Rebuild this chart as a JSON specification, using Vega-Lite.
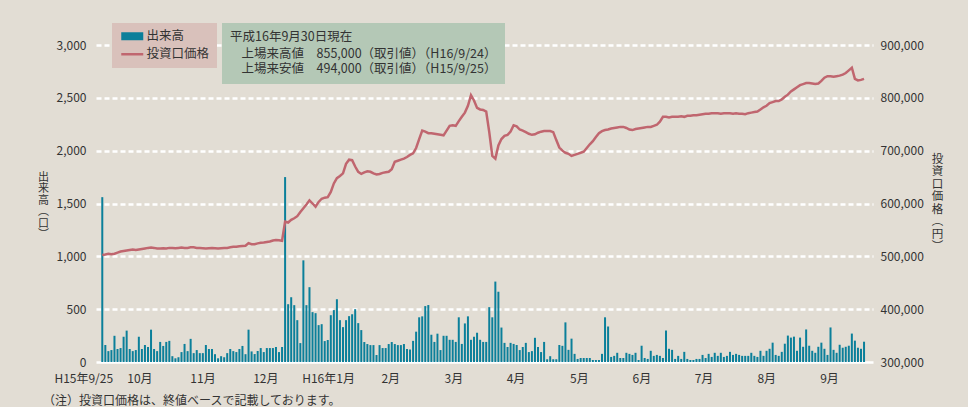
{
  "$schema": "https://vega.github.io/schema/vega-lite/v6.json",
  "autosize": {"type": "none"},
  "padding": {"left": 96, "top": 45, "right": 95, "bottom": 45},
  "width": 777,
  "height": 317,
  "background": "#e2ddd4",
  "config": {
    "font": "Noto Sans CJK JP",
    "view": {"stroke": null},
    "axis": {"labelColor": "#333333", "titleColor": "#333333", "labelFont": "Noto Sans CJK JP", "titleFont": "Noto Sans CJK JP"},
    "legend": {"labelColor": "#333333", "titleColor": "#333333", "labelFont": "Noto Sans CJK JP", "titleFont": "Noto Sans CJK JP"}
  },
  "title": {
    "text": "（注）投資口価格は、終値ベースで記載しております。",
    "orient": "bottom", "anchor": "start", "frame": "group",
    "dx": -53, "offset": 12, "fontSize": 12, "fontWeight": "normal", "color": "#333333"
  },
  "datasets": {
    "daily": [
      {"i":0,"v":1560,"p":502600},{"i":1,"v":161,"p":503500},{"i":2,"v":103,"p":505000},{"i":3,"v":113,"p":504000},{"i":4,"v":248,"p":505000},
      {"i":5,"v":123,"p":507000},{"i":6,"v":132,"p":509000},{"i":7,"v":239,"p":510000},{"i":8,"v":297,"p":511000},{"i":9,"v":123,"p":512000},
      {"i":10,"v":103,"p":513000},{"i":11,"v":113,"p":512000},{"i":12,"v":239,"p":513000},{"i":13,"v":123,"p":514000},{"i":14,"v":161,"p":515000},
      {"i":15,"v":142,"p":516000},{"i":16,"v":306,"p":516500},{"i":17,"v":123,"p":516000},{"i":18,"v":103,"p":515000},{"i":19,"v":190,"p":515000},
      {"i":20,"v":152,"p":515500},{"i":21,"v":190,"p":515000},{"i":22,"v":200,"p":516000},{"i":23,"v":55,"p":516000},{"i":24,"v":35,"p":515500},
      {"i":25,"v":45,"p":516000},{"i":26,"v":94,"p":516500},{"i":27,"v":171,"p":516000},{"i":28,"v":103,"p":516000},{"i":29,"v":219,"p":517000},
      {"i":30,"v":84,"p":517000},{"i":31,"v":113,"p":516000},{"i":32,"v":84,"p":516000},{"i":33,"v":84,"p":515500},{"i":34,"v":161,"p":515000},
      {"i":35,"v":123,"p":515500},{"i":36,"v":123,"p":516000},{"i":37,"v":74,"p":515500},{"i":38,"v":35,"p":515000},{"i":39,"v":55,"p":515500},
      {"i":40,"v":45,"p":516000},{"i":41,"v":84,"p":516000},{"i":42,"v":123,"p":517000},{"i":43,"v":103,"p":518000},{"i":44,"v":94,"p":518000},
      {"i":45,"v":123,"p":519000},{"i":46,"v":152,"p":519500},{"i":47,"v":74,"p":520000},{"i":48,"v":306,"p":525000},{"i":49,"v":100,"p":523000},
      {"i":50,"v":75,"p":523000},{"i":51,"v":104,"p":524500},{"i":52,"v":132,"p":525500},{"i":53,"v":94,"p":526000},{"i":54,"v":132,"p":527000},
      {"i":55,"v":132,"p":528000},{"i":56,"v":132,"p":530000},{"i":57,"v":142,"p":531000},{"i":58,"v":94,"p":530500},{"i":59,"v":142,"p":529500},
      {"i":60,"v":1750,"p":565600},{"i":61,"v":547,"p":564000},{"i":62,"v":613,"p":569000},{"i":63,"v":538,"p":572000},{"i":64,"v":396,"p":576000},
      {"i":65,"v":179,"p":584000},{"i":66,"v":962,"p":591000},{"i":67,"v":538,"p":598000},{"i":68,"v":708,"p":606000},{"i":69,"v":472,"p":600000},
      {"i":70,"v":462,"p":594000},{"i":71,"v":349,"p":603000},{"i":72,"v":358,"p":609000},{"i":73,"v":198,"p":611000},{"i":74,"v":208,"p":612000},
      {"i":75,"v":443,"p":622000},{"i":76,"v":491,"p":638000},{"i":77,"v":594,"p":648000},{"i":78,"v":396,"p":652000},{"i":79,"v":330,"p":657000},
      {"i":80,"v":396,"p":675000},{"i":81,"v":434,"p":683000},{"i":82,"v":453,"p":682000},{"i":83,"v":500,"p":670000},{"i":84,"v":368,"p":660000},
      {"i":85,"v":302,"p":656000},{"i":86,"v":189,"p":659000},{"i":87,"v":170,"p":661000},{"i":88,"v":160,"p":660000},{"i":89,"v":160,"p":657000},
      {"i":90,"v":66,"p":655000},{"i":91,"v":160,"p":656000},{"i":92,"v":132,"p":658000},{"i":93,"v":132,"p":659000},{"i":94,"v":170,"p":660000},
      {"i":95,"v":189,"p":665000},{"i":96,"v":170,"p":679000},{"i":97,"v":160,"p":681000},{"i":98,"v":160,"p":683000},{"i":99,"v":170,"p":685000},
      {"i":100,"v":123,"p":688000},{"i":101,"v":118,"p":692000},{"i":102,"v":200,"p":695000},{"i":103,"v":287,"p":705000},{"i":104,"v":423,"p":722000},
      {"i":105,"v":432,"p":738000},{"i":106,"v":529,"p":736000},{"i":107,"v":539,"p":733000},{"i":108,"v":258,"p":733000},{"i":109,"v":190,"p":732000},
      {"i":110,"v":268,"p":731000},{"i":111,"v":113,"p":730000},{"i":112,"v":248,"p":729000},{"i":113,"v":248,"p":738000},{"i":114,"v":210,"p":747000},
      {"i":115,"v":210,"p":748000},{"i":116,"v":190,"p":747000},{"i":117,"v":423,"p":756000},{"i":118,"v":171,"p":764000},{"i":119,"v":365,"p":772000},
      {"i":120,"v":432,"p":785000},{"i":121,"v":210,"p":805000},{"i":122,"v":239,"p":795000},{"i":123,"v":277,"p":781000},{"i":124,"v":210,"p":778000},
      {"i":125,"v":190,"p":777000},{"i":126,"v":190,"p":774000},{"i":127,"v":519,"p":735000},{"i":128,"v":423,"p":690000},{"i":129,"v":761,"p":685000},
      {"i":130,"v":665,"p":710000},{"i":131,"v":326,"p":722000},{"i":132,"v":181,"p":728000},{"i":133,"v":142,"p":730000},{"i":134,"v":181,"p":736000},
      {"i":135,"v":171,"p":748000},{"i":136,"v":161,"p":746000},{"i":137,"v":113,"p":740000},{"i":138,"v":142,"p":738000},{"i":139,"v":181,"p":735000},
      {"i":140,"v":94,"p":732000},{"i":141,"v":103,"p":730000},{"i":142,"v":229,"p":731000},{"i":143,"v":142,"p":734000},{"i":144,"v":94,"p":736000},
      {"i":145,"v":190,"p":737000},{"i":146,"v":26,"p":737000},{"i":147,"v":55,"p":737000},{"i":148,"v":26,"p":735000},{"i":149,"v":26,"p":720000},
      {"i":150,"v":161,"p":706000},{"i":151,"v":153,"p":700000},{"i":152,"v":375,"p":696000},{"i":153,"v":115,"p":694000},{"i":154,"v":221,"p":690000},
      {"i":155,"v":77,"p":692000},{"i":156,"v":29,"p":694000},{"i":157,"v":38,"p":696000},{"i":158,"v":38,"p":698000},{"i":159,"v":38,"p":705000},
      {"i":160,"v":38,"p":712000},{"i":161,"v":19,"p":718000},{"i":162,"v":19,"p":726000},{"i":163,"v":19,"p":733000},{"i":164,"v":77,"p":737000},
      {"i":165,"v":423,"p":739000},{"i":166,"v":337,"p":740000},{"i":167,"v":48,"p":742000},{"i":168,"v":58,"p":743000},{"i":169,"v":87,"p":744000},
      {"i":170,"v":38,"p":745000},{"i":171,"v":38,"p":745000},{"i":172,"v":87,"p":743000},{"i":173,"v":77,"p":740000},{"i":174,"v":67,"p":739000},
      {"i":175,"v":87,"p":741000},{"i":176,"v":19,"p":742000},{"i":177,"v":154,"p":743000},{"i":178,"v":38,"p":744000},{"i":179,"v":29,"p":745000},
      {"i":180,"v":106,"p":745000},{"i":181,"v":58,"p":747000},{"i":182,"v":67,"p":749000},{"i":183,"v":58,"p":755000},{"i":184,"v":38,"p":764000},
      {"i":185,"v":298,"p":764000},{"i":186,"v":125,"p":763000},{"i":187,"v":115,"p":764000},{"i":188,"v":29,"p":764000},{"i":189,"v":58,"p":764000},
      {"i":190,"v":29,"p":765000},{"i":191,"v":96,"p":764000},{"i":192,"v":29,"p":766000},{"i":193,"v":19,"p":766000},{"i":194,"v":19,"p":767000},
      {"i":195,"v":29,"p":767000},{"i":196,"v":29,"p":768000},{"i":197,"v":67,"p":769000},{"i":198,"v":38,"p":770000},{"i":199,"v":77,"p":770000},
      {"i":200,"v":48,"p":771000},{"i":201,"v":87,"p":771000},{"i":202,"v":58,"p":771000},{"i":203,"v":87,"p":770000},{"i":204,"v":48,"p":771000},
      {"i":205,"v":58,"p":771000},{"i":206,"v":96,"p":771000},{"i":207,"v":67,"p":770000},{"i":208,"v":77,"p":771000},{"i":209,"v":67,"p":770000},
      {"i":210,"v":58,"p":770000},{"i":211,"v":58,"p":769000},{"i":212,"v":58,"p":771000},{"i":213,"v":87,"p":772000},{"i":214,"v":58,"p":773000},
      {"i":215,"v":48,"p":774000},{"i":216,"v":106,"p":778000},{"i":217,"v":58,"p":782000},{"i":218,"v":106,"p":785000},{"i":219,"v":125,"p":790000},
      {"i":220,"v":183,"p":792000},{"i":221,"v":67,"p":794000},{"i":222,"v":58,"p":794000},{"i":223,"v":96,"p":797000},{"i":224,"v":173,"p":802000},
      {"i":225,"v":250,"p":806000},{"i":226,"v":231,"p":812000},{"i":227,"v":240,"p":816000},{"i":228,"v":106,"p":820000},{"i":229,"v":231,"p":824000},
      {"i":230,"v":144,"p":826000},{"i":231,"v":308,"p":828000},{"i":232,"v":154,"p":828000},{"i":233,"v":106,"p":827000},{"i":234,"v":87,"p":826000},
      {"i":235,"v":144,"p":827000},{"i":236,"v":183,"p":832000},{"i":237,"v":125,"p":838000},{"i":238,"v":67,"p":841000},{"i":239,"v":327,"p":841000},
      {"i":240,"v":115,"p":840000},{"i":241,"v":87,"p":841000},{"i":242,"v":163,"p":842000},{"i":243,"v":135,"p":844000},{"i":244,"v":144,"p":847000},
      {"i":245,"v":154,"p":852000},{"i":246,"v":269,"p":857000},{"i":247,"v":202,"p":836000},{"i":248,"v":135,"p":833000},{"i":249,"v":125,"p":834000},
      {"i":250,"v":192,"p":836000}
    ],
    "info": [
      {"info": "上場来高値　855,000（取引値）（H16/9/24）"},
      {"info": "上場来安値　494,000（取引値）（H15/9/25）"}
    ]
  },
  "layer": [
    {
      "data": {"name": "daily"},
      "mark": {"type": "bar", "width": 2},
      "encoding": {
        "x": {
          "field": "i", "type": "quantitative",
          "scale": {"domain": [-0.42, 251.3], "nice": false, "zero": false},
          "axis": {
            "title": null, "domain": false, "ticks": false, "grid": false,
            "labelPadding": 11, "labelFontSize": 12, "labelFlush": false, "labelOverlap": false,
            "labelOffset": {"condition": {"test": "datum.value < 1", "value": -19}, "value": 0},
            "values": [0, 12.2, 32.9, 53.5, 74.1, 94.5, 115.2, 135.6, 156.4, 176.9, 197.3, 217.9, 238.5],
            "labelExpr": "datum.value < 1 ? 'H15年9/25' : datum.value < 20 ? '10月' : datum.value < 40 ? '11月' : datum.value < 60 ? '12月' : datum.value < 80 ? 'H16年1月' : datum.value < 100 ? '2月' : datum.value < 120 ? '3月' : datum.value < 140 ? '4月' : datum.value < 160 ? '5月' : datum.value < 185 ? '6月' : datum.value < 205 ? '7月' : datum.value < 225 ? '8月' : '9月'"
          }
        },
        "y": {
          "field": "v", "type": "quantitative",
          "scale": {"domain": [0, 3000], "nice": false},
          "axis": {
            "orient": "left", "values": [0, 500, 1000, 1500, 2000, 2500, 3000], "format": ",d",
            "domain": false, "ticks": false, "labelPadding": 10, "labelFontSize": 12,
            "grid": true, "gridColor": "#ffffff", "gridWidth": 2.5, "gridOpacity": 1,
            "gridDash": {"condition": {"test": "datum.value === 0", "value": []}, "value": [5, 3]},
            "title": ["出", "来", "高", "︵", "口", "︶"],
            "titleAngle": 360, "titleFontSize": 11, "titleFontWeight": "normal", "titleLineHeight": 11.5,
            "titleAlign": "center", "titleBaseline": "middle", "titleX": -53, "titleY": 132
          }
        },
        "color": {
          "datum": "出来高",
          "scale": {"domain": ["出来高", "投資口価格"], "range": ["#0b7f9a", "#c0666f"]},
          "legend": {
            "title": null, "orient": "none", "legendX": 16, "legendY": -22,
            "fillColor": "#d9c1bb", "padding": 7, "labelFontSize": 12.5, "rowPadding": 5,
            "symbolSize": 100, "symbolOffset": 7, "labelOffset": 8,
            "encode": {
              "symbols": {
                "update": {
                  "shape": {"signal": "datum.value === '出来高' ? 'M-2.2,-0.8H2.2V0.8H-2.2Z' : 'M-2.2,-0.25H2.2V0.25H-2.2Z'"},
                  "fill": {"signal": "datum.value === '出来高' ? '#0b7f9a' : '#c0666f'"},
                  "stroke": {"value": "transparent"},
                  "strokeWidth": {"value": 0},
                  "opacity": {"value": 1}
                }
              }
            }
          }
        }
      }
    },
    {
      "data": {"name": "daily"},
      "mark": {"type": "line", "strokeWidth": 2.5, "interpolate": "linear"},
      "encoding": {
        "x": {"field": "i", "type": "quantitative"},
        "y": {
          "field": "p", "type": "quantitative",
          "scale": {"domain": [300000, 900000], "nice": false, "zero": false},
          "axis": {
            "orient": "right", "values": [300000, 400000, 500000, 600000, 700000, 800000, 900000], "format": ",d",
            "domain": false, "ticks": false, "grid": false, "labelPadding": 7, "labelFontSize": 12,
            "title": ["投", "資", "口", "価", "格", "︵", "円", "︶"],
            "titleAngle": 360, "titleFontSize": 11.5, "titleFontWeight": "normal", "titleLineHeight": 12.5,
            "titleAlign": "center", "titleBaseline": "middle", "titleX": 64, "titleY": 114
          }
        },
        "color": {"datum": "投資口価格"}
      }
    },
    {
      "data": {"name": "info"},
      "mark": {"type": "point", "opacity": 0},
      "encoding": {
        "shape": {
          "field": "info", "type": "nominal",
          "scale": {"domain": ["上場来高値　855,000（取引値）（H16/9/24）", "上場来安値　494,000（取引値）（H15/9/25）"]},
          "legend": {
            "title": "平成16年9月30日現在", "orient": "none", "legendX": 126, "legendY": -22,
            "fillColor": "#b4c8b6", "padding": 8, "titleFontSize": 12.5, "titleFontWeight": "normal",
            "titlePadding": 4, "labelFontSize": 12.5, "labelLimit": 500, "rowPadding": 2,
            "symbolSize": 0, "symbolStrokeWidth": 0, "labelOffset": -1
          }
        }
      }
    }
  ],
  "resolve": {"scale": {"y": "independent"}}
}
